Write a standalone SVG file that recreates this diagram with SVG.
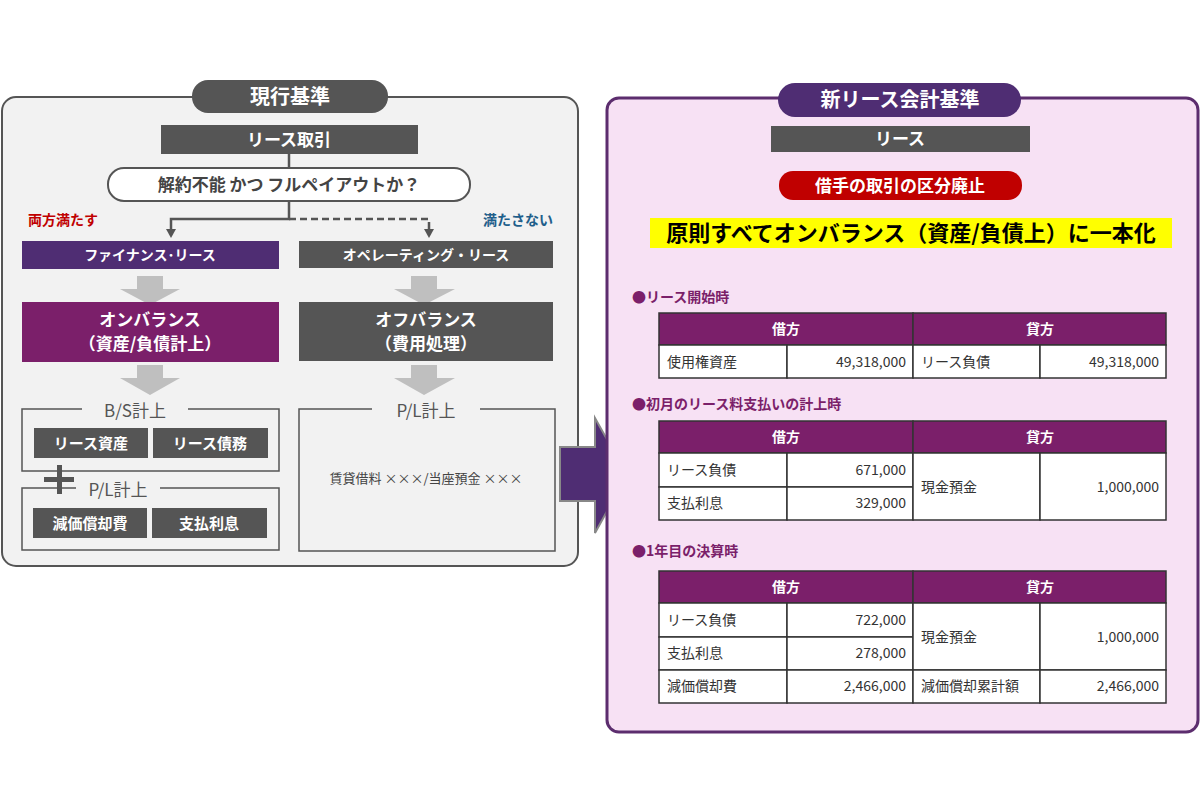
<svg xmlns="http://www.w3.org/2000/svg" width="1200" height="800" viewBox="0 0 1200 800">
<style>
text{font-family:"Noto Sans CJK JP","Noto Sans",sans-serif}
.w{fill:#fff;font-weight:bold;text-anchor:middle}
.g{fill:#555}
.ga{fill:#bfbfbf}
.t{fill:#333;font-size:14px}
.tr{fill:#333;font-size:14px;text-anchor:end}
.cell{fill:#fff;stroke:#333;stroke-width:1.5}
.hd{fill:#7b1f6a;stroke:#333;stroke-width:1.5}
.sec{fill:#7b1f6a;font-size:14px;font-weight:bold}
.br{fill:none;stroke:#555;stroke-width:1.5}
</style>
<defs>
<marker id="ah" viewBox="0 0 10 10" refX="5" refY="9" markerWidth="9" markerHeight="9" orient="auto-start-reverse" markerUnits="userSpaceOnUse"><path d="M0,0L10,0L5,10Z" fill="#555" transform="rotate(-90 5 5)"/></marker>
</defs>
<rect width="1200" height="800" fill="#fff"/>
<!-- left panel -->
<g id="left-panel">
<rect x="2" y="97" width="576" height="469" rx="14" fill="#f2f2f2" stroke="#555" stroke-width="2"/>
<rect x="192" y="80" width="196" height="33" rx="16" class="g"/>
<text x="290" y="104" class="w" font-size="20">現行基準</text>
</g>
<g id="connectors" fill="none" stroke="#555" stroke-width="2.5">
<line x1="289" y1="154" x2="289" y2="168"/>
<polyline points="289,201 289,219 171,219 171,231"/>
<polygon points="166,229 176,229 171,238" fill="#555" stroke="none"/>
<polyline points="289,219 429,219 429,231" stroke-dasharray="7,4"/>
<polygon points="424,229 434,229 429,238" fill="#555" stroke="none"/>
<line x1="901" y1="152" x2="901" y2="207" stroke-width="2"/>
<polygon points="896,205 906,205 901,214" fill="#555" stroke="none"/>
</g>
<g id="n-lease-deal"><rect x="161" y="125" width="257" height="29" class="g"/><text x="289" y="146" class="w" font-size="17">リース取引</text></g>
<g id="n-question"><rect x="108" y="168" width="362" height="33" rx="16" fill="#fff" stroke="#555" stroke-width="2"/><text x="289" y="191" font-size="17" fill="#444" text-anchor="middle" font-weight="bold">解約不能 かつ フルペイアウトか？</text></g>
<text x="28" y="225" font-size="14" font-weight="bold" fill="#c00000">両方満たす</text>
<text x="553" y="225" font-size="14" font-weight="bold" fill="#1f5f8b" text-anchor="end">満たさない</text>
<g id="n-finance"><rect x="22" y="241" width="257" height="28" fill="#4f2d73"/><text x="150" y="260" class="w" font-size="14">ファイナンス･リース</text></g>
<g id="n-operating"><rect x="299" y="241" width="254" height="27" class="g"/><text x="426" y="260" class="w" font-size="14">オペレーティング・リース</text></g>
<g id="arrows-gray" class="ga">
<polygon points="137,276 163,276 163,289 180,289 150,305 120,289 137,289"/>
<polygon points="411,276 437,276 437,289 455,289 424,305 394,289 411,289"/>
<polygon points="137,365 163,365 163,378 180,378 150,395 120,378 137,378"/>
<polygon points="411,365 437,365 437,378 455,378 424,395 394,378 411,378"/>
<polygon points="888,258 914,258 914,272 932,272 901,287 870,272 888,272"/>
</g>
<g id="n-onbalance"><rect x="22" y="302" width="257" height="60" fill="#7b1f6a"/><text x="150" y="326" class="w" font-size="17">オンバランス</text><text x="150" y="350" class="w" font-size="17">（資産/負債計上）</text></g>
<g id="n-offbalance"><rect x="299" y="302" width="254" height="59" class="g"/><text x="426" y="326" class="w" font-size="17">オフバランス</text><text x="426" y="350" class="w" font-size="17">（費用処理）</text></g>
<g id="n-bs">
<path d="M82,409H22V471H279V409H188" class="br"/>
<text x="135" y="417" font-size="17" fill="#555" text-anchor="middle">B/S計上</text>
<rect x="34" y="428" width="114" height="30" class="g"/><text x="91" y="449" class="w" font-size="15">リース資産</text>
<rect x="153" y="428" width="115" height="30" class="g"/><text x="210" y="449" class="w" font-size="15">リース債務</text>
</g>
<g id="plus"><rect x="44" y="477" width="30" height="5" class="g"/><rect x="57" y="465" width="5" height="29" class="g"/></g>
<g id="n-pl-left">
<path d="M76,488H22V550H279V488H160" class="br"/>
<text x="118" y="496" font-size="17" fill="#555" text-anchor="middle">P/L計上</text>
<rect x="33" y="508" width="114" height="30" class="g"/><text x="90" y="529" class="w" font-size="15">減価償却費</text>
<rect x="152" y="508" width="115" height="30" class="g"/><text x="209" y="529" class="w" font-size="15">支払利息</text>
</g>
<g id="n-pl-right">
<path d="M372,409H299V551H555V409H480" class="br"/>
<text x="426" y="417" font-size="17" fill="#555" text-anchor="middle">P/L計上</text>
<text x="426" y="483" font-size="13" fill="#444" text-anchor="middle">賃貸借料 ×××/当座預金 ×××</text>
</g>
<g id="big-arrow"><polygon points="560,447 595,447 595,418 627,475 595,533 595,501 560,501" fill="#4f2d73" stroke="#888" stroke-width="2"/></g>
<!-- right panel -->
<g id="right-panel">
<rect x="607" y="98" width="591" height="634" rx="12" fill="#f7e1f4" stroke="#5c2d6e" stroke-width="3"/>
<rect x="778" y="83" width="243" height="34" rx="17" fill="#4f2d73"/>
<text x="900" y="107" class="w" font-size="20">新リース会計基準</text>
</g>
<g id="n-lease"><rect x="771" y="126" width="259" height="26" class="g"/><text x="900" y="145" class="w" font-size="17">リース</text></g>
<g id="n-abolish"><rect x="779" y="171" width="243" height="29" rx="14" fill="#c00000"/><text x="900" y="192" class="w" font-size="17">借手の取引の区分廃止</text></g>
<g id="n-unify"><rect x="650" y="218" width="522" height="30" fill="#ffff00"/><text x="911" y="241" font-size="22" font-weight="bold" fill="#000" text-anchor="middle">原則すべてオンバランス（資産/負債上）に一本化</text></g>
<g id="t1">
<text x="632" y="302" class="sec">●リース開始時</text>
<rect x="659" y="313" width="254" height="32" class="hd"/><rect x="913" y="313" width="253" height="32" class="hd"/>
<text x="786" y="334" class="w" font-size="14">借方</text><text x="1040" y="334" class="w" font-size="14">貸方</text>
<rect x="659" y="345" width="128" height="33" class="cell"/><rect x="787" y="345" width="126" height="33" class="cell"/><rect x="913" y="345" width="127" height="33" class="cell"/><rect x="1040" y="345" width="126" height="33" class="cell"/>
<text x="667" y="367" class="t">使用権資産</text><text x="906" y="367" class="tr">49,318,000</text>
<text x="921" y="367" class="t">リース負債</text><text x="1159" y="367" class="tr">49,318,000</text>
</g>
<g id="t2">
<text x="632" y="409" class="sec">●初月のリース料支払いの計上時</text>
<rect x="659" y="421" width="254" height="32" class="hd"/><rect x="913" y="421" width="253" height="32" class="hd"/>
<text x="786" y="442" class="w" font-size="14">借方</text><text x="1040" y="442" class="w" font-size="14">貸方</text>
<rect x="659" y="453" width="128" height="34" class="cell"/><rect x="787" y="453" width="126" height="34" class="cell"/>
<rect x="659" y="487" width="128" height="33" class="cell"/><rect x="787" y="487" width="126" height="33" class="cell"/>
<rect x="913" y="453" width="127" height="67" class="cell"/><rect x="1040" y="453" width="126" height="67" class="cell"/>
<text x="667" y="475" class="t">リース負債</text><text x="906" y="475" class="tr">671,000</text>
<text x="667" y="508" class="t">支払利息</text><text x="906" y="508" class="tr">329,000</text>
<text x="921" y="492" class="t">現金預金</text><text x="1159" y="492" class="tr">1,000,000</text>
</g>
<g id="t3">
<text x="632" y="556" class="sec">●1年目の決算時</text>
<rect x="659" y="571" width="254" height="32" class="hd"/><rect x="913" y="571" width="253" height="32" class="hd"/>
<text x="786" y="592" class="w" font-size="14">借方</text><text x="1040" y="592" class="w" font-size="14">貸方</text>
<rect x="659" y="603" width="128" height="34" class="cell"/><rect x="787" y="603" width="126" height="34" class="cell"/>
<rect x="659" y="637" width="128" height="33" class="cell"/><rect x="787" y="637" width="126" height="33" class="cell"/>
<rect x="659" y="670" width="128" height="33" class="cell"/><rect x="787" y="670" width="126" height="33" class="cell"/>
<rect x="913" y="603" width="127" height="67" class="cell"/><rect x="1040" y="603" width="126" height="67" class="cell"/>
<rect x="913" y="670" width="127" height="33" class="cell"/><rect x="1040" y="670" width="126" height="33" class="cell"/>
<text x="667" y="625" class="t">リース負債</text><text x="906" y="625" class="tr">722,000</text>
<text x="667" y="658" class="t">支払利息</text><text x="906" y="658" class="tr">278,000</text>
<text x="667" y="691" class="t">減価償却費</text><text x="906" y="691" class="tr">2,466,000</text>
<text x="921" y="642" class="t">現金預金</text><text x="1159" y="642" class="tr">1,000,000</text>
<text x="921" y="691" class="t">減価償却累計額</text><text x="1159" y="691" class="tr">2,466,000</text>
</g>
</svg>
